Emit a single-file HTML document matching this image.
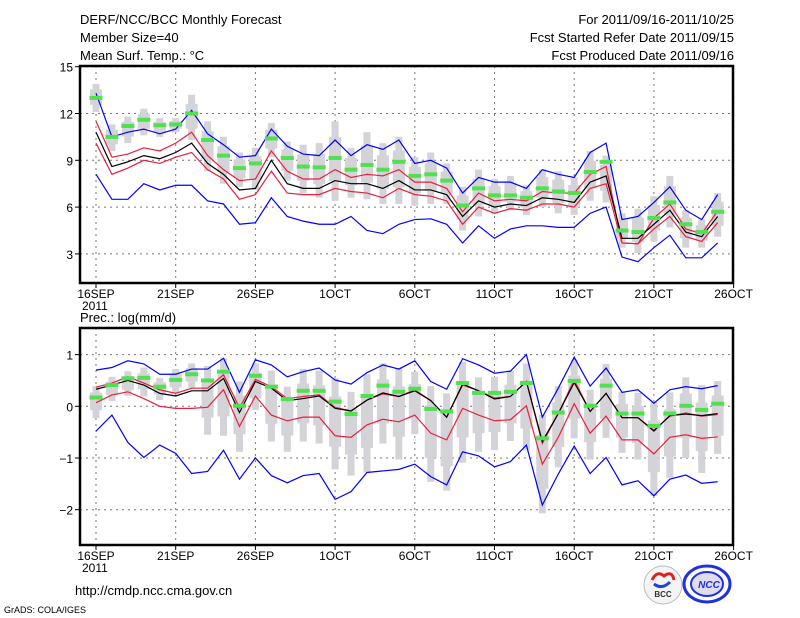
<!DOCTYPE html>
<html><head><meta charset="utf-8"><style>
body{margin:0;background:#fff;}
svg{display:block;font-family:"Liberation Sans",sans-serif;}
</style></head><body>
<svg id="c" width="800" height="618" viewBox="0 0 800 618" xmlns="http://www.w3.org/2000/svg">
<g font-size="13" fill="#000">
<text x="80" y="24">DERF/NCC/BCC Monthly Forecast</text>
<text x="80" y="42">Member Size=40</text>
<text x="80" y="60">Mean Surf. Temp.: °C</text>
<text x="734" y="24" text-anchor="end">For 2011/09/16-2011/10/25</text>
<text x="734" y="42" text-anchor="end">Fcst Started Refer Date 2011/09/15</text>
<text x="734" y="60" text-anchor="end">Fcst Produced Date 2011/09/16</text>
</g>
<text x="80" y="322" font-size="13">Prec.: log(mm/d)</text>
<text x="75" y="595" font-size="13">http://cmdp.ncc.cma.gov.cn</text>
<text x="4" y="613" font-size="9">GrADS: COLA/IGES</text>
<g>
<circle cx="663" cy="585" r="19" fill="#f4f4f4" stroke="#bbb"/>
<path d="M652 580 q5 -10 12 -4 q8 -6 10 4" stroke="#e02020" stroke-width="3" fill="none"/>
<path d="M654 584 q8 6 16 -2" stroke="#2040e0" stroke-width="3" fill="none"/>
<text x="663" y="597" font-size="8" font-weight="bold" text-anchor="middle" fill="#333">BCC</text>
</g>
<g>
<ellipse cx="707" cy="584" rx="23" ry="18" fill="none" stroke="#2030e0" stroke-width="3"/>
<ellipse cx="707" cy="584" rx="16" ry="12" fill="#dde" stroke="#2030e0" stroke-width="2"/>
<text x="709" y="588" font-size="10" font-weight="bold" font-style="italic" text-anchor="middle" fill="#2030e0">NCC</text>
</g>
<g id="p1"></g><g id="p2"></g>
</svg>
<script>
// ---- Temperature panel data ----
const days=["16SEP","21SEP","26SEP","1OCT","6OCT","11OCT","16OCT","21OCT","26OCT"];
const tBlueHi=[13.3,10.5,10.8,11.0,10.7,11.0,12.2,10.7,10.0,9.2,9.3,11.0,9.9,9.4,9.3,10.3,9.3,10.0,9.7,10.3,8.8,9.0,8.5,6.9,7.9,7.6,7.6,7.2,8.4,8.1,7.9,9.5,10.1,5.2,5.4,6.3,7.3,5.8,5.2,6.8];
const tRedHi=[11.5,9.2,9.4,9.8,9.6,10.1,10.8,9.3,8.4,7.7,7.8,9.6,8.3,7.8,7.8,8.4,7.9,8.1,8.0,8.4,7.6,7.6,7.2,5.7,6.9,6.4,6.5,6.4,7.0,6.9,6.9,8.1,8.6,3.7,3.65,5.3,6.2,4.6,4.3,5.75];
const tMean=[10.8,8.6,8.9,9.3,9.1,9.5,10.1,8.8,8.1,7.1,7.2,9.0,7.5,7.2,7.2,7.7,7.5,7.5,7.2,7.7,7.1,7.1,6.8,5.4,6.4,6.0,6.2,6.1,6.6,6.5,6.3,7.6,8.0,4.0,4.0,4.9,5.8,4.4,4.1,5.4];
const tRedLo=[10.1,8.1,8.5,9.0,8.8,9.2,9.5,8.4,7.8,6.5,6.8,8.3,6.9,6.8,6.8,7.2,7.0,6.9,6.6,7.2,6.8,6.7,6.4,4.9,6.0,5.6,5.9,5.8,6.2,6.2,6.0,7.2,7.5,3.7,3.65,4.6,5.4,4.1,3.8,5.0];
const tBlueLo=[8.1,6.5,6.5,7.5,7.1,7.4,7.4,6.4,6.2,4.9,5.0,6.6,5.4,5.1,4.9,4.9,5.4,4.5,4.3,4.9,5.2,5.25,4.9,3.7,4.8,4.0,4.6,4.8,4.8,4.7,4.7,5.6,6.0,2.8,2.5,3.4,4.2,2.75,2.75,3.7];
const tObs=[13.0,10.5,11.2,11.6,11.25,11.3,12.0,10.3,9.3,8.5,8.8,10.4,9.15,8.6,8.55,9.15,8.4,8.7,8.4,8.9,8.0,8.1,7.7,6.1,7.2,6.75,6.75,6.6,7.2,7.0,6.9,8.25,8.9,4.5,4.4,5.3,6.3,4.9,4.4,5.7];
const tBoxHi=[13.9,11.3,11.8,12.3,11.7,11.7,13.2,11.5,10.5,9.5,9.8,11.4,10.2,10.0,10.1,11.5,9.8,10.8,10.1,10.5,9.2,9.5,8.8,7.3,8.4,7.8,8.0,7.4,8.4,8.3,7.9,9.6,9.3,5.6,5.9,6.7,8.0,5.8,5.2,6.9];
const tBoxLo=[12.1,9.6,10.1,10.6,10.5,10.8,10.3,8.3,7.5,7.3,7.1,9.2,7.7,6.9,6.6,6.4,6.6,6.5,6.2,6.2,6.1,6.2,6.2,4.5,5.4,5.6,5.8,5.5,6.0,5.6,5.5,6.4,6.3,3.4,3.05,3.8,4.7,3.4,3.4,4.1];
const tTicks=[15,12,9,6,3];
// ---- Precipitation panel data ----
const pBlueHi=[0.70,0.75,0.88,0.82,0.62,0.62,0.72,0.72,0.93,0.27,0.90,0.80,0.57,0.67,0.74,0.51,0.43,0.65,0.80,0.72,0.88,0.48,0.33,0.92,0.80,0.64,0.68,1.0,-0.21,0.35,0.95,0.39,0.74,0.27,0.32,0.06,0.32,0.38,0.34,0.40];
const pRedHi=[0.37,0.45,0.57,0.45,0.32,0.25,0.35,0.35,0.61,-0.03,0.52,0.38,0.15,0.19,0.22,-0.02,-0.09,0.12,0.24,0.19,0.32,0.11,-0.21,0.41,0.30,0.16,0.19,0.48,-0.72,-0.14,0.51,-0.10,0.25,-0.22,-0.22,-0.46,-0.19,-0.13,-0.19,-0.16];
const pMean=[0.33,0.41,0.50,0.41,0.25,0.20,0.30,0.30,0.54,-0.12,0.48,0.35,0.11,0.15,0.20,-0.04,-0.09,0.12,0.26,0.19,0.30,0.11,-0.21,0.43,0.30,0.14,0.19,0.48,-0.68,-0.14,0.46,-0.10,0.25,-0.22,-0.22,-0.48,-0.18,-0.15,-0.18,-0.14];
const pRedLo=[0.07,0.22,0.28,0.15,0.0,-0.04,-0.04,-0.02,0.32,-0.39,0.20,-0.17,-0.28,-0.21,-0.21,-0.57,-0.60,-0.36,-0.25,-0.30,-0.17,-0.52,-0.65,-0.04,-0.17,-0.28,-0.26,0.01,-1.12,-0.60,0.05,-0.52,-0.19,-0.65,-0.65,-0.92,-0.60,-0.55,-0.62,-0.59];
const pBlueLo=[-0.48,-0.17,-0.70,-0.99,-0.75,-0.91,-1.30,-1.26,-0.85,-1.41,-1.0,-1.34,-1.48,-1.34,-1.30,-1.80,-1.65,-1.28,-1.25,-1.22,-1.12,-1.36,-1.52,-0.88,-0.96,-1.17,-1.07,-0.75,-1.91,-1.31,-0.77,-1.30,-0.99,-1.52,-1.44,-1.73,-1.41,-1.33,-1.49,-1.46];
const pObs=[0.17,0.41,0.54,0.55,0.38,0.51,0.62,0.50,0.67,0.01,0.59,0.38,0.14,0.30,0.30,0.09,-0.15,0.20,0.40,0.28,0.34,-0.05,-0.10,0.45,0.26,0.26,0.28,0.45,-0.62,-0.12,0.49,0.01,0.40,-0.14,-0.14,-0.38,-0.14,0.01,-0.07,0.05];
const pBoxHi=[0.39,0.57,0.68,0.75,0.55,0.72,0.83,0.78,0.93,0.48,0.83,0.69,0.38,0.72,0.69,0.54,0.28,0.62,0.83,0.74,0.67,0.39,0.25,0.86,0.56,0.57,0.69,0.83,-0.17,0.39,0.90,0.32,0.82,0.28,0.26,0.09,0.27,0.56,0.41,0.49];
const pBoxLo=[-0.23,0.10,0.20,0.19,0.12,0.25,0.36,-0.55,-0.57,-0.88,-0.07,-0.68,-0.88,-0.68,-0.72,-1.22,-1.34,-1.28,-0.72,-1.03,-0.54,-1.46,-1.63,-1.09,-0.88,-0.85,-0.67,-0.85,-2.07,-1.18,-0.62,-1.03,-0.61,-0.90,-1.03,-1.73,-1.38,-1.00,-1.29,-0.92];
const pTicks=[1,0,-1,-2];

const NS="http://www.w3.org/2000/svg";
function mk(parent,tag,attrs){const e=document.createElementNS(NS,tag);for(const k in attrs)e.setAttribute(k,attrs[k]);parent.appendChild(e);return e;}
const X0=80,X1=733;
function xs(i){return 96+i*15.94;}

function panel(g,top,bot,yOf,ticks,d){
  // gridlines
  for(let k=0;k<days.length;k++){
    const x=xs(k*5);
    const gl=mk(g,'line',{x1:x,x2:x,y1:top,y2:bot,stroke:'#777','stroke-dasharray':'2,4','stroke-width':1});
    
    
    const tk=mk(g,'line',{x1:x,x2:x,y1:bot,y2:bot+5,stroke:'#000'});
    
    
    const t=mk(g,'text',{x:x,y:bot+15,'font-size':12,'text-anchor':'middle'});
    t.textContent=days[k];
    
    
  }
  const yr=mk(g,'text',{x:82,y:bot+27,'font-size':12});
  yr.textContent='2011';
  
  
  ticks.forEach(v=>{
    const y=yOf(v);
    const gl=mk(g,'line',{x1:X0,x2:X1,y1:y,y2:y,stroke:'#777','stroke-dasharray':'2,4'});
    
    
    const tk=mk(g,'line',{x1:X0-5,x2:X0,y1:y,y2:y,stroke:'#000'});
    
    
    const t=mk(g,'text',{x:X0-7,y:y+5,'font-size':12,'text-anchor':'end'});
    t.textContent=String(v).replace('-','\u2212');
    
    
  });
  // boxes
  d.boxHi.forEach((hi,i)=>{
    const lo=d.boxLo[i],x=xs(i);
    const y1=yOf(hi),y2=yOf(lo);
    const w=mk(g,'rect',{x:x-3.5,y:y1,width:7,height:y2-y1,fill:'#d3d3d8'});
    
    
    const b1=y1+(y2-y1)*0.2,b2=y1+(y2-y1)*0.75;
    const b=mk(g,'rect',{x:x-6,y:b1,width:12,height:b2-b1,fill:'#d3d3d8'});
    
    
  });
  const series=[[d.blueLo,'#0000ff','min-line'],[d.blueHi,'#0000ff','max-line'],[d.redLo,'#e8203c','lower-std-line'],[d.redHi,'#e8203c','upper-std-line'],[d.mean,'#000','ensemble-mean-line']];
  series.forEach(([arr,c,n])=>{
    const p=mk(g,'polyline',{points:arr.map((v,i)=>xs(i)+','+yOf(v)).join(' '),fill:'none',stroke:c,'stroke-width':1.2});
    
    
  });
  d.obs.forEach((v,i)=>{
    const r=mk(g,'rect',{x:xs(i)-6.5,y:yOf(v)-2,width:13,height:4,fill:'#50e050'});
    
    
  });
  const fr=mk(g,'rect',{x:X0,y:top,width:X1-X0,height:bot-top,fill:'none',stroke:'#000','stroke-width':2.5});
  
  
}
const p1=document.getElementById('p1');


panel(p1,66,283,v=>66.7+(15-v)*15.6,tTicks,{blueHi:tBlueHi,redHi:tRedHi,mean:tMean,redLo:tRedLo,blueLo:tBlueLo,obs:tObs,boxHi:tBoxHi,boxLo:tBoxLo});
const p2=document.getElementById('p2');


panel(p2,328,545,v=>406.3-v*51.7,pTicks,{blueHi:pBlueHi,redHi:pRedHi,mean:pMean,redLo:pRedLo,blueLo:pBlueLo,obs:pObs,boxHi:pBoxHi,boxLo:pBoxLo});
</script>
</body></html>
